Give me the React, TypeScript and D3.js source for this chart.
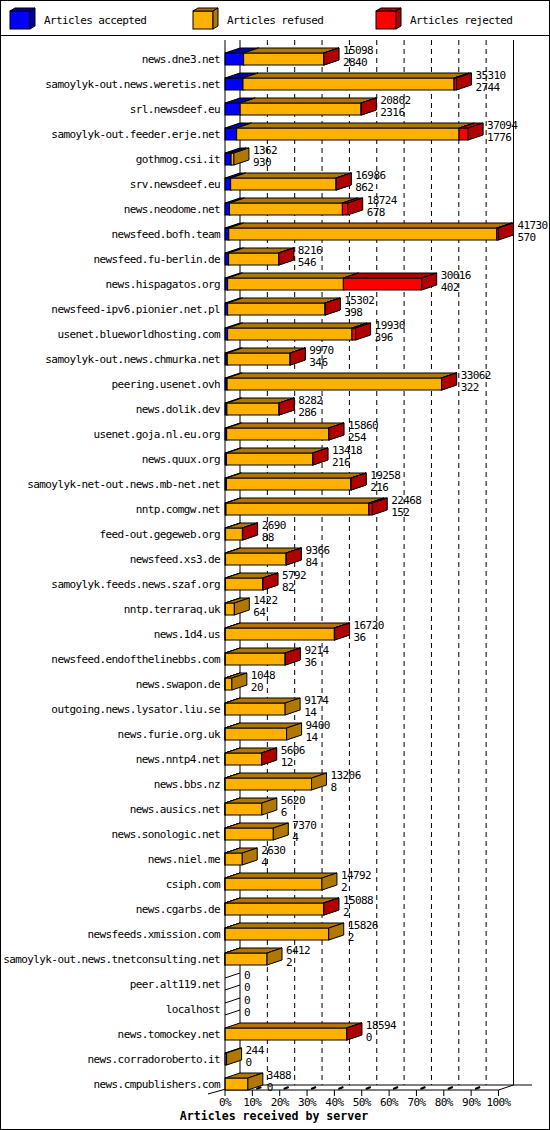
import * as d3 from 'd3';

const servers = [
  'news.dne3.net', 'samoylyk-out.news.weretis.net', 'srl.newsdeef.eu', 'samoylyk-out.feeder.erje.net',
  'gothmog.csi.it', 'srv.newsdeef.eu', 'news.neodome.net', 'newsfeed.bofh.team', 'newsfeed.fu-berlin.de',
  'news.hispagatos.org', 'newsfeed-ipv6.pionier.net.pl', 'usenet.blueworldhosting.com',
  'samoylyk-out.news.chmurka.net', 'peering.usenet.ovh', 'news.dolik.dev', 'usenet.goja.nl.eu.org',
  'news.quux.org', 'samoylyk-net-out.news.mb-net.net', 'nntp.comgw.net', 'feed-out.gegeweb.org',
  'newsfeed.xs3.de', 'samoylyk.feeds.news.szaf.org', 'nntp.terraraq.uk', 'news.1d4.us',
  'newsfeed.endofthelinebbs.com', 'news.swapon.de', 'outgoing.news.lysator.liu.se', 'news.furie.org.uk',
  'news.nntp4.net', 'news.bbs.nz', 'news.ausics.net', 'news.sonologic.net', 'news.niel.me', 'csiph.com',
  'news.cgarbs.de', 'newsfeeds.xmission.com', 'samoylyk-out.news.tnetconsulting.net', 'peer.alt119.net',
  'localhost', 'news.tomockey.net', 'news.corradoroberto.it', 'news.cmpublishers.com',
];

// printed totals (top number) and accepted (bottom number)
const totals = [
  15098, 35310, 20802, 37094, 1362, 16986, 18724, 41730, 8216, 30016, 15302, 19930, 9970, 33062,
  8282, 15860, 13418, 19258, 22468, 2690, 9366, 5792, 1422, 16720, 9214, 1048, 9174, 9400, 5606,
  13206, 5620, 7370, 2630, 14792, 15088, 15826, 6412, 0, 0, 18594, 244, 3488,
];
const accepted = [
  2840, 2744, 2316, 1776, 930, 862, 678, 570, 546, 402, 398, 396, 346, 322, 286, 254, 216, 216,
  152, 88, 84, 82, 64, 36, 36, 20, 14, 14, 12, 8, 6, 4, 4, 2, 2, 2, 2, 0, 0, 0, 0, 0,
];
const refused = [
  12228, 32216, 18456, 33948, 432, 16094, 17236, 40910, 7640, 17664, 14874, 18984, 9594, 32710,
  7966, 15576, 13172, 19012, 21816, 2572, 9252, 5680, 1358, 16654, 9148, 1028, 9160, 9386, 5564,
  13198, 5614, 7366, 2626, 14790, 15056, 15824, 6410, 0, 0, 18564, 244, 3488,
];
const rejected = [
  30, 350, 30, 1370, 0, 30, 810, 250, 30, 11950, 30, 550, 30, 30, 30, 30, 30, 30, 500, 30, 30, 30,
  0, 30, 30, 0, 0, 0, 30, 0, 0, 0, 0, 0, 30, 0, 0, 0, 0, 30, 0, 0,
];

const tickPercents = [0, 10, 20, 30, 40, 50, 60, 70, 80, 90, 100];
const legendLabels = ['Articles accepted', 'Articles refused', 'Articles rejected'];

const FRONT = ['#0000ff', '#ffb000', '#ff0000'];
const DARK = ['#0000a8', '#b07800', '#b00000'];

const DX = 15;
const DY = 5;
const HH = 6;
const FONT = 'DejaVu Sans Mono';

export default function App() {
  const W = 550;
  const H = 1130;
  const x = d3.scaleLinear().domain([0, d3.max(totals) as number]).range([225, 498.5]);
  const pct = d3.scaleLinear().domain([0, 100]).range([225, 498.5]);
  const y = d3.scaleBand().domain(servers).range([46.5, 1096.5]);
  const yc = (s: string) => (y(s) as number) + y.bandwidth() / 2;

  const plotTop = 40;
  const floorBack = yc(servers[servers.length - 1]) + 1;
  const floorFront = floorBack + DY;
  const x0 = pct(0);
  const x100 = pct(100);

  const box = (a: number, b: number, c: number, k: number, key: string) => {
    const top = c - HH;
    const bot = c + HH;
    return (
      <g key={key} stroke="#000" strokeWidth={1} strokeLinejoin="miter">
        <rect x={a} y={top} width={b - a} height={bot - top} fill={FRONT[k]} />
        <polygon points={`${a},${top} ${a + DX},${top - DY} ${b + DX},${top - DY} ${b},${top}`} fill={DARK[k]} />
        <polygon points={`${b},${top} ${b + DX},${top - DY} ${b + DX},${bot - DY} ${b},${bot}`} fill={DARK[k]} />
      </g>
    );
  };

  const series = [accepted, refused, rejected];

  return (
    <svg width={W} height={H} style={{ position: 'absolute', left: 0, top: 0, background: '#fff' }}
      fontFamily={FONT}>
      <rect x={0.5} y={0.5} width={W - 1} height={H - 1} fill="#fff" stroke="#000" />
      <line x1={0} x2={W} y1={35.5} y2={35.5} stroke="#000" />

      {/* legend */}
      {legendLabels.map((lab, k) => {
        const lx = [10, 193, 376][k];
        const tx = [44, 227, 410][k];
        return (
          <g key={lab}>
            <g stroke="#000">
              <rect x={lx} y={11} width={20} height={18} fill={FRONT[k]} />
              <polygon points={`${lx},11 ${lx + 5},8 ${lx + 25},8 ${lx + 20},11`} fill={DARK[k]} />
              <polygon points={`${lx + 20},11 ${lx + 25},8 ${lx + 25},26 ${lx + 20},29`} fill={DARK[k]} />
            </g>
            <text x={tx} y={23.5} fontSize={11} letterSpacing={-0.6}>{lab}</text>
          </g>
        );
      })}

      {/* back wall */}
      <g stroke="#000" strokeWidth={1}>
        {tickPercents.slice(1, -1).map((p) => (
          <line key={p} x1={pct(p) + DX} x2={pct(p) + DX} y1={plotTop} y2={floorBack}
            strokeDasharray="5,4" />
        ))}
        <line x1={x0 + DX} x2={x0 + DX} y1={plotTop} y2={floorBack} />
        <line x1={x100 + DX} x2={x100 + DX} y1={plotTop} y2={floorBack} />
        <line x1={x0 + DX} x2={532} y1={floorBack} y2={floorBack} />
        <line x1={x0} x2={x100} y1={floorFront} y2={floorFront} />
        <line x1={x100} x2={x100 + DX} y1={floorFront} y2={floorBack} />
        <line x1={208} x2={x0 + DX} y1={floorFront + 4} y2={floorBack} />
        {tickPercents.map((p) => (
          <g key={p}>
            <line x1={pct(p)} x2={pct(p)} y1={floorFront} y2={floorFront + 6} />
            {p > 0 && p < 100 && (
              <line x1={pct(p) + 4} x2={pct(p) + 9} y1={floorFront - 1} y2={floorFront - 3} strokeWidth={2} />
            )}
          </g>
        ))}
      </g>

      {/* bars */}
      {servers.map((s, i) => {
        const c = yc(s);
        let cum = 0;
        const parts: any[] = [];
        series.forEach((arr, k) => {
          const v = arr[i];
          if (v > 0) {
            parts.push(box(x(cum), x(cum + v), c, k, `${s}-${k}`));
          }
          cum += v;
        });
        if (totals[i] === 0) {
          parts.push(
            <g key={`${s}-z`} stroke="#000">
              <line x1={x0} y1={c - HH} x2={x0 + DX} y2={c - HH - DY} />
              <line x1={x0} y1={c + HH} x2={x0 + DX} y2={c + HH - DY} />
            </g>
          );
        }
        const lx = x(totals[i]) + DX + 4;
        return (
          <g key={s}>
            {parts}
            <text x={220} y={c + 4} textAnchor="end" fontSize={11} letterSpacing={-0.6}>{s}</text>
            <text x={lx} y={c - 5} fontSize={11} letterSpacing={-0.6}>{totals[i]}</text>
            <text x={lx} y={c + 6.5} fontSize={11} letterSpacing={-0.6}>{accepted[i]}</text>
          </g>
        );
      })}

      {/* front left axis */}
      <line x1={x0} x2={x0} y1={plotTop} y2={floorFront} stroke="#000" />

      {tickPercents.map((p) => (
        <text key={p} x={pct(p)} y={1106} textAnchor="middle" fontSize={11} letterSpacing={-0.6}>{`${p}%`}</text>
      ))}
      <text x={274} y={1120} textAnchor="middle" fontSize={11.6} fontWeight="bold">
        Articles received by server
      </text>
    </svg>
  );
}
